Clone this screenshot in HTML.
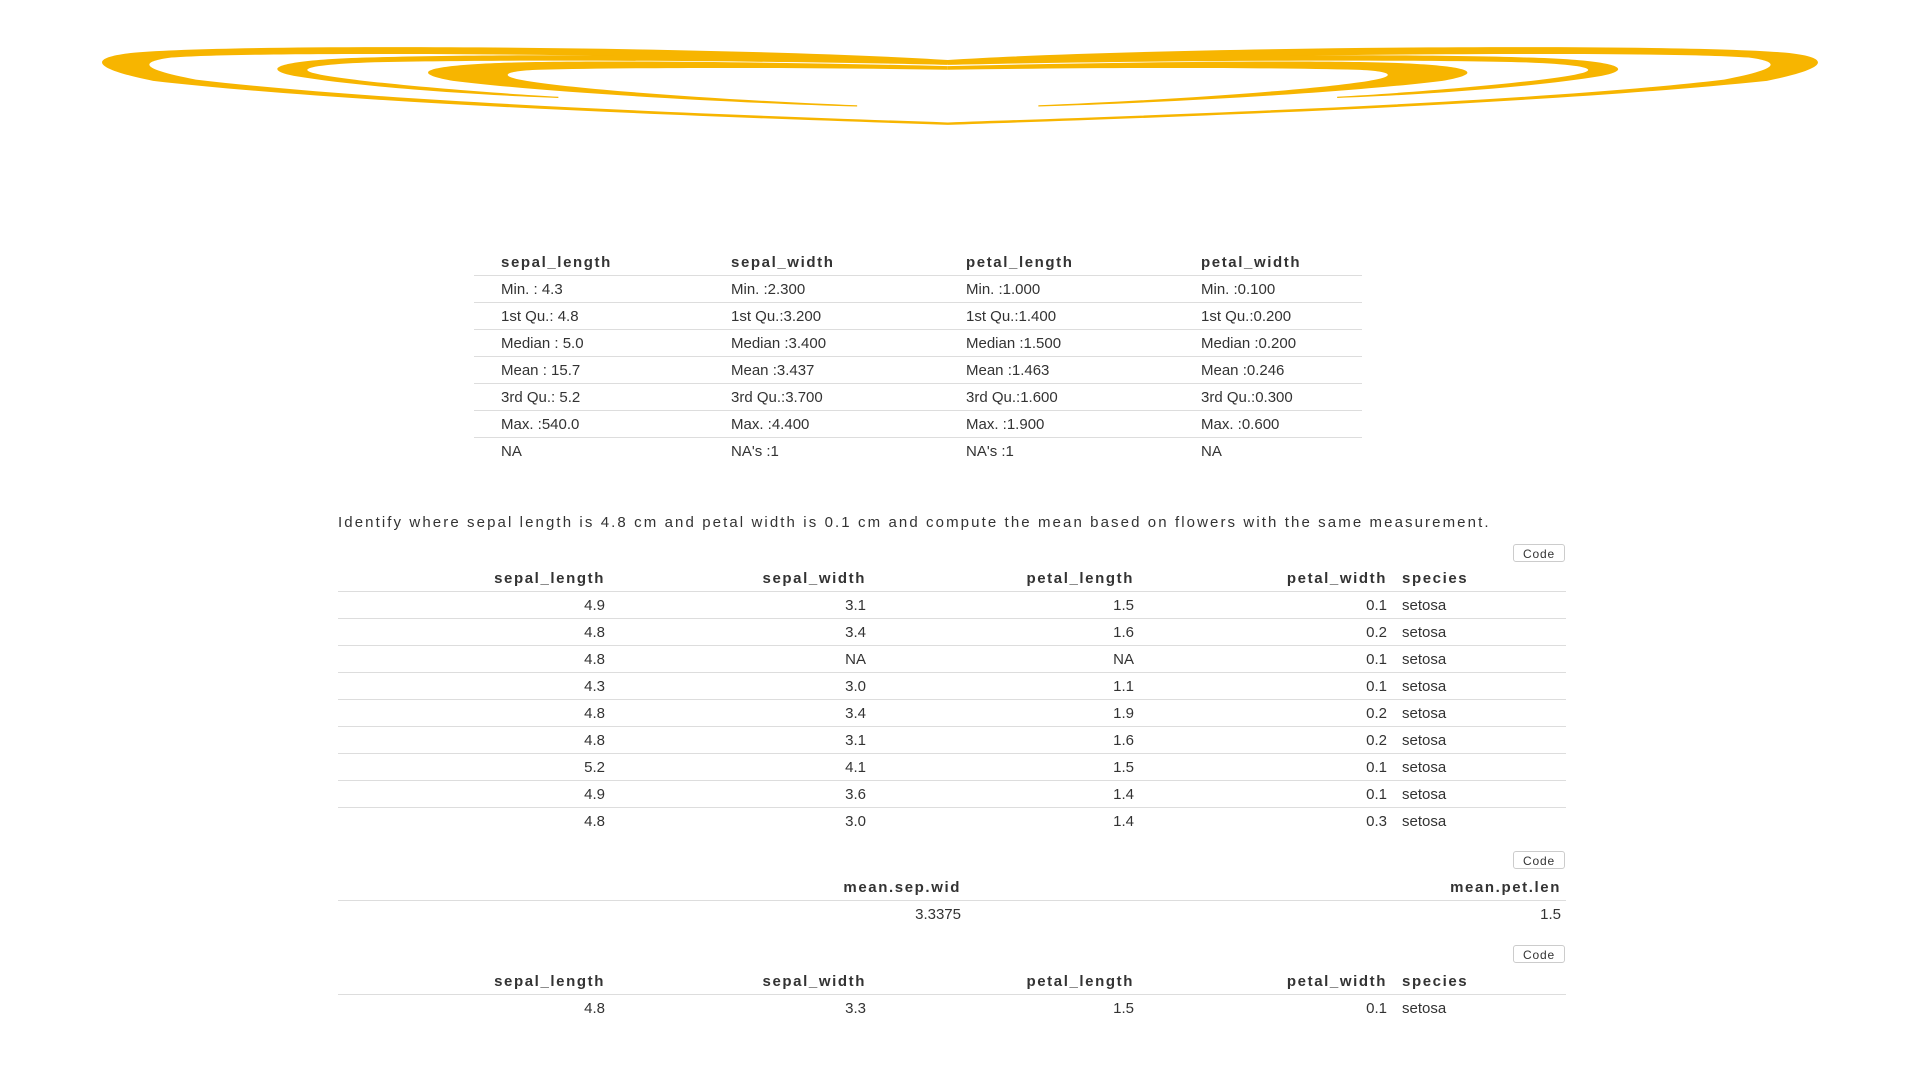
<!DOCTYPE html>
<html><head><meta charset="utf-8"><style>
html,body{margin:0;padding:0;width:1920px;height:1080px;background:#fff;overflow:hidden;font-family:"Liberation Sans",Arial,sans-serif;color:#333;}
svg.heart{position:absolute;left:0;top:0}
table{position:absolute;border-collapse:collapse;table-layout:fixed;font-size:15px;letter-spacing:0}
td,th{padding:0;height:26px;white-space:nowrap;overflow:visible;border-top:1px solid #ddd}
th{font-weight:bold;border-top:none;border-bottom:1px solid #ddd;letter-spacing:1.6px}
tr:nth-child(2) td{border-top:none}
.s td,.s th{text-align:left;padding-left:27px;height:26px}
.r td,.r th{text-align:right;padding-right:5px}
.r td.sp,.r th.sp{text-align:left;padding-left:10px;padding-right:0}
.txt{position:absolute;left:338px;top:514px;font-size:15px;letter-spacing:2.1px;white-space:nowrap}
.btn{position:absolute;left:1513px;width:52px;height:18px;border:1px solid #ccc;border-radius:3px;font-size:12px;letter-spacing:0.8px;text-align:center;line-height:18px;box-sizing:border-box;background:#fff}
</style></head><body>
<svg class="heart" width="1920" height="1080" viewBox="0 0 1568 882">
<path fill="#f7b500" fill-rule="evenodd" d="M774,49 C600,38 200,35 110,43 C70,47 75,56 125,66 C300,86 600,96 774,102 C948,96 1248,86 1443,66 C1493,56 1498,47 1458,43 C1368,35 948,38 774,49 Z M774,52 C600,45 220,41 140,47 C110,51 118,57 160,65 C320,84 600,94 774,100 C948,94 1248,84 1408,65 C1450,57 1458,51 1428,47 C1348,41 948,45 774,52 Z"/>
<g fill="#f7b500">
<path id="r2" d="M774,50 C650,46 420,43 300,47 C230,49 210,56 240,62 C300,72 400,78 456,80 L456,79 C400,76 300,68 262,61 C240,57 250,53 300,51 C420,48 650,50 774,53 Z"/>
<path d="M774,50 C650,46 420,43 300,47 C230,49 210,56 240,62 C300,72 400,78 456,80 L456,79 C400,76 300,68 262,61 C240,57 250,53 300,51 C420,48 650,50 774,53 Z" transform="translate(1548,0) scale(-1,1)"/>
</g>
<g fill="#f7b500">
<path d="M774,54 C650,51 500,49 420,51 C350,53 330,59 370,66 C450,76 600,84 700,87 L700,86 C600,82 480,74 430,66 C405,62 412,58 440,57 C520,55 650,55 774,57 Z"/>
<path d="M774,54 C650,51 500,49 420,51 C350,53 330,59 370,66 C450,76 600,84 700,87 L700,86 C600,82 480,74 430,66 C405,62 412,58 440,57 C520,55 650,55 774,57 Z" transform="translate(1548,0) scale(-1,1)"/>
</g>
</svg>

<table class="s" style="left:474px;top:249px;width:888px">
<colgroup><col style="width:230px"><col style="width:235px"><col style="width:235px"><col style="width:188px"></colgroup>
<tr><th>sepal_length</th><th>sepal_width</th><th>petal_length</th><th>petal_width</th></tr>
<tr><td>Min. : 4.3</td><td>Min. :2.300</td><td>Min. :1.000</td><td>Min. :0.100</td></tr>
<tr><td>1st Qu.: 4.8</td><td>1st Qu.:3.200</td><td>1st Qu.:1.400</td><td>1st Qu.:0.200</td></tr>
<tr><td>Median : 5.0</td><td>Median :3.400</td><td>Median :1.500</td><td>Median :0.200</td></tr>
<tr><td>Mean : 15.7</td><td>Mean :3.437</td><td>Mean :1.463</td><td>Mean :0.246</td></tr>
<tr><td>3rd Qu.: 5.2</td><td>3rd Qu.:3.700</td><td>3rd Qu.:1.600</td><td>3rd Qu.:0.300</td></tr>
<tr><td>Max. :540.0</td><td>Max. :4.400</td><td>Max. :1.900</td><td>Max. :0.600</td></tr>
<tr><td style="border-bottom:none">NA</td><td>NA's :1</td><td>NA's :1</td><td>NA</td></tr>
</table>

<div class="txt">Identify where sepal length is 4.8 cm and petal width is 0.1 cm and compute the mean based on flowers with the same measurement.</div>

<div class="btn" style="top:544px">Code</div>
<table class="r" style="left:338px;top:565px;width:1228px">
<colgroup><col style="width:272px"><col style="width:261px"><col style="width:268px"><col style="width:253px"><col style="width:174px"></colgroup>
<tr><th>sepal_length</th><th>sepal_width</th><th>petal_length</th><th>petal_width</th><th class="sp">species</th></tr>
<tr><td>4.9</td><td>3.1</td><td>1.5</td><td>0.1</td><td class="sp">setosa</td></tr>
<tr><td>4.8</td><td>3.4</td><td>1.6</td><td>0.2</td><td class="sp">setosa</td></tr>
<tr><td>4.8</td><td>NA</td><td>NA</td><td>0.1</td><td class="sp">setosa</td></tr>
<tr><td>4.3</td><td>3.0</td><td>1.1</td><td>0.1</td><td class="sp">setosa</td></tr>
<tr><td>4.8</td><td>3.4</td><td>1.9</td><td>0.2</td><td class="sp">setosa</td></tr>
<tr><td>4.8</td><td>3.1</td><td>1.6</td><td>0.2</td><td class="sp">setosa</td></tr>
<tr><td>5.2</td><td>4.1</td><td>1.5</td><td>0.1</td><td class="sp">setosa</td></tr>
<tr><td>4.9</td><td>3.6</td><td>1.4</td><td>0.1</td><td class="sp">setosa</td></tr>
<tr><td>4.8</td><td>3.0</td><td>1.4</td><td>0.3</td><td class="sp">setosa</td></tr>
</table>

<div class="btn" style="top:851px">Code</div>
<table class="r" style="left:338px;top:874px;width:1228px">
<colgroup><col style="width:628px"><col style="width:600px"></colgroup>
<tr><th>mean.sep.wid</th><th>mean.pet.len</th></tr>
<tr><td>3.3375</td><td>1.5</td></tr>
</table>

<div class="btn" style="top:945px">Code</div>
<table class="r" style="left:338px;top:968px;width:1228px">
<colgroup><col style="width:272px"><col style="width:261px"><col style="width:268px"><col style="width:253px"><col style="width:174px"></colgroup>
<tr><th>sepal_length</th><th>sepal_width</th><th>petal_length</th><th>petal_width</th><th class="sp">species</th></tr>
<tr><td>4.8</td><td>3.3</td><td>1.5</td><td>0.1</td><td class="sp">setosa</td></tr>
</table>
</body></html>
